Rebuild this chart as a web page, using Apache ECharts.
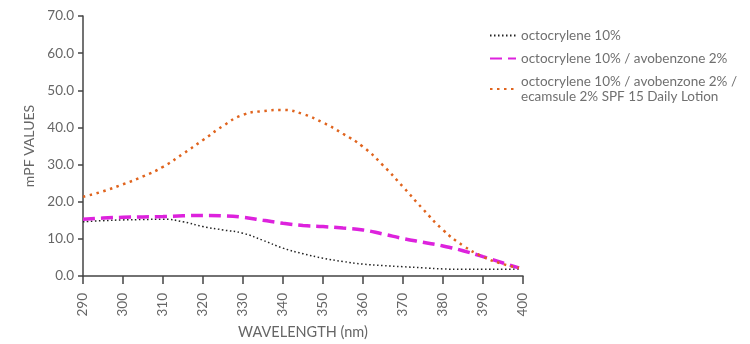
<!DOCTYPE html>
<html><head><meta charset="utf-8">
<script src="https://cdn.jsdelivr.net/npm/echarts@6/dist/echarts.min.js"></script>
<style>html,body{margin:0;padding:0;background:#fff}#c{width:750px;height:344px}</style>
</head><body><div id="c"></div>
<script>
const wavelengths = [290,295,300,305,310,315,320,325,330,335,340,345,350,355,360,365,370,375,380,385,390,395,399];
const octocrylene = [14.6,14.9,15.1,15.2,15.3,14.6,13.3,12.4,11.5,9.6,7.5,6.0,4.8,3.9,3.2,2.8,2.5,2.2,1.9,1.8,1.8,1.8,1.9];
const octoAvo = [15.3,15.6,15.8,15.9,16.0,16.2,16.3,16.2,15.8,15.0,14.2,13.6,13.3,12.9,12.4,11.3,10.1,9.1,8.1,6.8,5.2,3.5,2.2];
const octoAvoEcam = [21.3,22.8,24.7,26.8,29.4,32.9,36.6,40.4,43.4,44.4,44.7,43.6,41.3,38.3,34.8,29.8,24.0,18.0,12.4,8.2,5.2,3.2,2.2];
const seriesNames = ['octocrylene 10%','octocrylene 10% / avobenzone 2%','octocrylene 10% / avobenzone 2% /\necamsule 2% SPF 15 Daily Lotion'];
const yTicks = [0,10,20,30,40,50,60,70];
const xTicks = [290,300,310,320,330,340,350,360,370,380,390,400];

const pair = arr => wavelengths.map((w,i)=>[w,arr[i]]);
const chart = echarts.init(document.getElementById('c'));
const font = 'Lato, "Open Sans", sans-serif';
chart.setOption({
  animation:false,
  textStyle:{fontFamily:font},
  grid:{left:83,right:227,top:16,bottom:68,containLabel:false,outerBoundsMode:'none'},
  legend:{
    orient:'vertical', left:484, top:23, itemWidth:26, itemHeight:10, itemGap:8,
    itemStyle:{opacity:0},
    textStyle:{color:'#707070',fontSize:13.5,fontFamily:font,lineHeight:15},
    data:seriesNames
  },
  xAxis:{
    type:'value', min:290, max:400, interval:10,
    name:'WAVELENGTH (nm)', nameLocation:'middle', nameGap:48,
    nameTextStyle:{color:'#666',fontSize:14.5,fontFamily:font},
    axisLine:{lineStyle:{color:'#444',width:1.5}},
    axisTick:{length:8,lineStyle:{color:'#444',width:1.5}},
    axisLabel:{rotate:90,color:'#666',fontSize:13.5,margin:17,fontFamily:font,
      formatter:v=>xTicks.includes(v)?String(v):''},
    splitLine:{show:false}
  },
  yAxis:{
    type:'value', min:0, max:70, interval:10,
    name:'mPF VALUES', nameLocation:'middle', nameGap:46,
    nameTextStyle:{color:'#666',fontSize:14,fontFamily:font},
    axisLine:{show:true,lineStyle:{color:'#444',width:1.5}},
    axisTick:{show:true,length:5,lineStyle:{color:'#444',width:1.5}},
    axisLabel:{color:'#666',fontSize:13.5,margin:9,fontFamily:font,
      formatter:v=>yTicks.includes(v)?v.toFixed(1):''},
    splitLine:{show:false}
  },
  series:[
    {name:seriesNames[0],type:'line',showSymbol:false,symbol:'none',smooth:true,
     data:pair(octocrylene),lineStyle:{color:'#222',width:1.5,type:[1.5,2.5]},itemStyle:{color:'#222'}},
    {name:seriesNames[1],type:'line',showSymbol:false,symbol:'none',smooth:true,
     data:pair(octoAvo),lineStyle:{color:'#dd22dd',width:3.5,type:[12,6]},itemStyle:{color:'#dd22dd'}},
    {name:seriesNames[2],type:'line',showSymbol:false,symbol:'none',smooth:true,
     data:pair(octoAvoEcam),lineStyle:{color:'#e0641e',width:2.5,type:[2.5,4.5]},itemStyle:{color:'#e0641e'}}
  ]
});
</script></body></html>
